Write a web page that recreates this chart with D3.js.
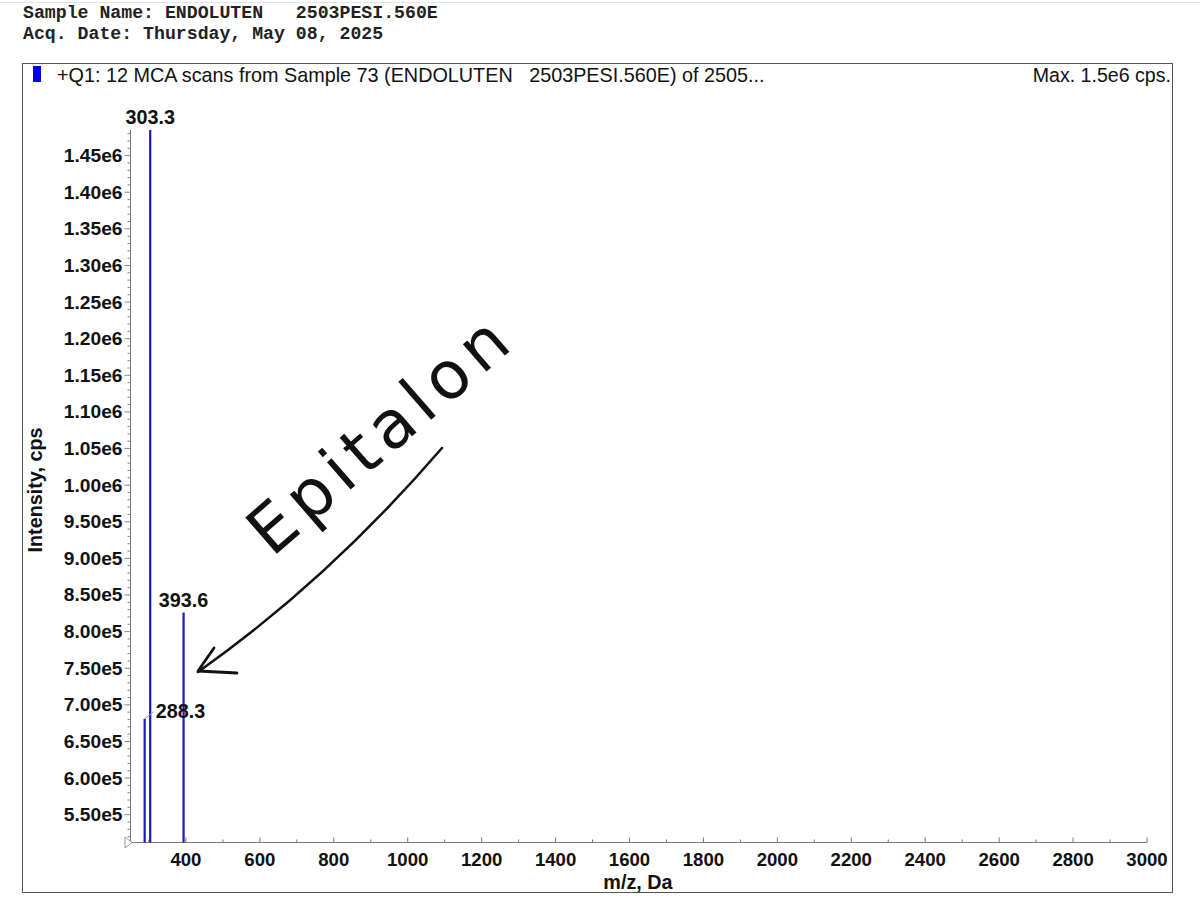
<!DOCTYPE html>
<html><head><meta charset="utf-8">
<script src="https://cdn.jsdelivr.net/npm/d3@7"></script>
<style>body{margin:0;background:#fff}svg{display:block}</style>
</head><body>
<script>
const headerLines = ["Sample Name: ENDOLUTEN   2503PESI.560E", "Acq. Date: Thursday, May 08, 2025"];
const titleText = "+Q1: 12 MCA scans from Sample 73 (ENDOLUTEN\u00A0\u00A0 2503PESI.560E) of 2505...";
const maxText = "Max. 1.5e6 cps.";
const peakMz = [288.3, 303.3, 393.6];
const peakIntensity = [681000, 1485000, 826000];
const peakLabels = ["288.3", "303.3", "393.6"];
const xTicks = [400, 600, 800, 1000, 1200, 1400, 1600, 1800, 2000, 2200, 2400, 2600, 2800, 3000];
const yTicks = [550000, 600000, 650000, 700000, 750000, 800000, 850000, 900000, 950000, 1000000, 1050000, 1100000, 1150000, 1200000, 1250000, 1300000, 1350000, 1400000, 1450000];
const yTickLabels = ["5.50e5","6.00e5","6.50e5","7.00e5","7.50e5","8.00e5","8.50e5","9.00e5","9.50e5","1.00e6","1.05e6","1.10e6","1.15e6","1.20e6","1.25e6","1.30e6","1.35e6","1.40e6","1.45e6"];
const annotation = "Epitalon";

const W = 1200, H = 908;
const svg = d3.select("body").append("svg").attr("width", W).attr("height", H);
const sans = "'Liberation Sans', Arial, sans-serif";
const mono = "'Liberation Mono', 'Courier New', monospace";

// faint top line
svg.append("line").attr("x1",0).attr("x2",W).attr("y1",2.5).attr("y2",2.5).attr("stroke","#e4e4e4");

svg.selectAll("text.hdr").data(headerLines).join("text")
  .attr("x", 23).attr("y", (d,i)=>18 + i*21)
  .attr("font-family", mono).attr("font-weight","bold").attr("font-size",18.2)
  .style("white-space","pre")
  .attr("fill","#222").text(d=>d);

// frame
svg.append("rect").attr("x",22.5).attr("y",63.5).attr("width",1150).attr("height",829)
  .attr("fill","none").attr("stroke","#555").attr("stroke-width",1);

svg.append("rect").attr("x",33).attr("y",66).attr("width",8).attr("height",16).attr("fill","#0000e0");
svg.append("text").attr("x",57).attr("y",82).attr("font-family",sans).attr("font-size",19.8)
  .style("white-space","pre").attr("fill","#111").text(titleText);
svg.append("text").attr("x",1171).attr("y",82).attr("text-anchor","end").attr("font-family",sans)
  .attr("font-size",19.6).attr("fill","#111").text(maxText);

const x = d3.scaleLinear().domain([250, 3000]).range([130.5, 1147]);
const y = d3.scaleLinear().domain([512000, 1485000]).range([842.5, 130]);

const tickFont = 18.6, labFont = 19.8;

// x axis
const gx = svg.append("g").attr("transform","translate(0,842.5)");
gx.append("line").attr("x1",x(250)).attr("x2",x(3000)).attr("stroke","#777");
const xMinor = d3.range(300, 3001, 100);
gx.selectAll("line.mn").data(xMinor).join("line").attr("class","mn")
  .attr("x1",d=>x(d)).attr("x2",d=>x(d)).attr("y1",0).attr("y2",d=>d%200===0?-5:-3).attr("stroke","#777");
gx.selectAll("text").data(xTicks).join("text")
  .attr("x",d=>x(d)).attr("y",23).attr("text-anchor","middle")
  .attr("font-family",sans).attr("font-weight","bold").attr("font-size",tickFont).attr("fill","#111")
  .text(d=>d);
svg.append("text").attr("x",638).attr("y",889).attr("text-anchor","middle")
  .attr("font-family",sans).attr("font-weight","bold").attr("font-size",labFont).attr("fill","#111").text("m/z, Da");

// y axis
const gy = svg.append("g").attr("transform","translate(130.5,0)");
gy.append("line").attr("y1",y(512000)).attr("y2",y(1485000)).attr("stroke","#777");
const yMinor = d3.range(520000, 1485001, 10000);
gy.selectAll("line.mn").data(yMinor).join("line").attr("class","mn")
  .attr("y1",d=>y(d)).attr("y2",d=>y(d)).attr("x1",0).attr("x2",d=>d%50000===0?-6:-3).attr("stroke","#888");
gy.selectAll("text").data(yTicks).join("text")
  .attr("x",-8).attr("y",d=>y(d)+6.5).attr("text-anchor","end")
  .attr("font-family",sans).attr("font-weight","bold").attr("font-size",tickFont+0.6).attr("fill","#111")
  .text((d,i)=>yTickLabels[i]);
svg.append("text").attr("transform","translate(42,490) rotate(-90)").attr("text-anchor","middle")
  .attr("font-family",sans).attr("font-weight","bold").attr("font-size",labFont).attr("fill","#111").text("Intensity, cps");

// origin triangle
svg.append("path").attr("d","M125,837 L132,842.5 L125,848 Z").attr("fill","#fff").attr("stroke","#999");

// peaks
svg.selectAll("line.pk").data(peakMz).join("line").attr("class","pk")
  .attr("x1",d=>x(d)).attr("x2",d=>x(d)).attr("y1",y(512000)).attr("y2",(d,i)=>y(peakIntensity[i]))
  .attr("stroke","#1a1ab8").attr("stroke-width",2.2);

// labels
svg.selectAll("text.pl").data(peakMz).join("text").attr("class","pl")
  .attr("x",(d,i)=> i===0 ? x(d)+11 : x(d))
  .attr("y",(d,i)=> i===0 ? y(peakIntensity[i])-1 : y(peakIntensity[i])-6)
  .attr("text-anchor",(d,i)=> i===0 ? "start" : "middle")
  .attr("font-family",sans).attr("font-weight","bold").attr("font-size",labFont).attr("fill","#111")
  .text((d,i)=>peakLabels[i]);
svg.append("line").attr("x1",x(peakMz[0])).attr("y1",y(peakIntensity[0]))
  .attr("x2",x(peakMz[0])+9).attr("y2",y(peakIntensity[0])-7).attr("stroke","#999").attr("stroke-width",1);

// handwritten annotation
svg.append("text").attr("transform","translate(272,558) rotate(-41)")
  .attr("font-family","'DejaVu Sans', sans-serif").attr("font-weight",400).attr("font-size",66)
  .attr("textLength",320).attr("lengthAdjust","spacing")
  .attr("fill","#111").text(annotation);
svg.append("path").attr("d","M442,448 C380,520 300,600 198,672")
  .attr("fill","none").attr("stroke","#111").attr("stroke-width",2.5).attr("stroke-linecap","round");
svg.append("path").attr("d","M214,648 L198,671 L237,673")
  .attr("fill","none").attr("stroke","#111").attr("stroke-width",2.8).attr("stroke-linecap","round").attr("stroke-linejoin","round");
</script>
</body></html>
